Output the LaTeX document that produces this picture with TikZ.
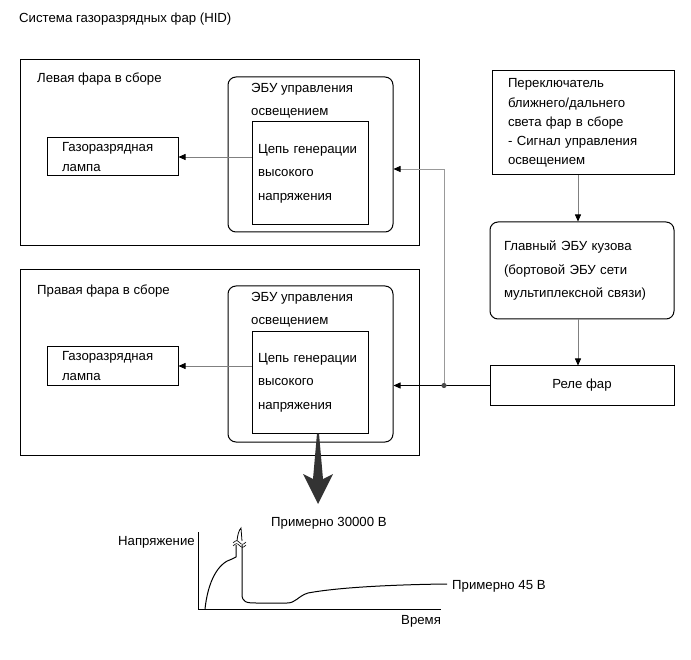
\documentclass[tikz,border=0pt]{standalone}
\usepackage{fontspec}
\setmainfont{Liberation Sans}
\usetikzlibrary{arrows.meta}
\begin{document}
\begin{tikzpicture}[x=1pt,y=-1pt,
  box/.style={draw, line width=1pt, inner sep=0pt},
  rbox/.style={box, rounded corners=8pt},
  txt/.style={font=\fontsize{13.2}{23.5}\selectfont, inner sep=0pt, align=left},
  btxt/.style={font=\fontsize{13.2}{23.5}\selectfont, align=left, inner ysep=0pt},
  arr/.style={-{Triangle[length=7pt,width=6pt,black]}, line width=0.7pt},
  garr/.style={arr, draw=black!50},
  curve/.style={line width=1pt, line join=round}]
\useasboundingbox (0,0) rectangle (691,660);

% title
\node[txt, anchor=base west] (title) at (19,23) {Система газоразрядных фар (HID)};

% left headlamp assembly
\node[box, minimum width=399pt, minimum height=186pt] (outL) at (219.5,153) {};
\node[txt, anchor=base west] (outLt) at (37,83) {Левая фара в сборе};
\node[rbox, minimum width=165pt, minimum height=155pt] (ecuL) at (310.5,154.5) {};
\node[txt, anchor=base west] (ecuLt) at (251,116) {ЭБУ управления\\освещением};
\node[box, btxt, minimum width=116pt, minimum height=103pt, inner xsep=6pt, text width=104pt] (hvL) at (310,173.5) {Цепь генерации\\высокого\\напряжения};
\node[box, btxt, minimum width=131pt, minimum height=38pt, inner xsep=15pt, text width=101pt, font=\fontsize{13.2}{20}\selectfont] (lampL) at (112.5,157) {Газоразрядная\\лампа};

% right headlamp assembly
\node[box, minimum width=399pt, minimum height=185pt] (outR) at (219.5,362.5) {};
\node[txt, anchor=base west] (outRt) at (37,295) {Правая фара в сборе};
\node[rbox, minimum width=165pt, minimum height=156pt] (ecuR) at (310.5,364) {};
\node[txt, anchor=base west] (ecuRt) at (251,325) {ЭБУ управления\\освещением};
\node[box, btxt, minimum width=116pt, minimum height=101pt, inner xsep=6pt, text width=104pt] (hvR) at (310,382.5) {Цепь генерации\\высокого\\напряжения};
\node[box, btxt, minimum width=131pt, minimum height=38pt, inner xsep=15pt, text width=101pt, font=\fontsize{13.2}{20}\selectfont] (lampR) at (112.5,366) {Газоразрядная\\лампа};

% right column
\node[box, btxt, minimum width=182pt, minimum height=104pt, inner xsep=16pt, text width=150pt, font=\fontsize{13.2}{19.2}\selectfont] (sw) at (583,123) {Переключатель\\ближнего/дальнего\\света фар в сборе\\- Сигнал управления\\освещением};
\node[rbox, btxt, minimum width=184pt, minimum height=97pt, inner xsep=14pt, text width=156pt] (body) at (582,270.5) {Главный ЭБУ кузова\\(бортовой ЭБУ сети\\мультиплексной связи)};
\node[box, btxt, minimum width=184pt, minimum height=39pt, align=center] (relay) at (582,385.5) {Реле фар};

% connectors
\draw[garr] (hvL.west |- lampL.east) -- (lampL.east);
\draw[garr] (hvR.west |- lampR.east) -- (lampR.east);
\draw[garr] (sw.south -| 578,0) -- (body.north -| 578,0);
\draw[garr] (body.south -| 578,0) -- (relay.north -| 578,0);
\coordinate (j) at (444,385.5);
\coordinate (k) at (444,169);
\draw[arr] (relay.west) -- (relay.west -| ecuR.east);
\draw[draw=black!40, line width=0.7pt] (j) -- (k);
\draw[arr, draw=black!40] (k) -- (k -| ecuL.east);
\fill[black!70] (j) circle (2.6pt);

% big arrow
\coordinate (ba) at (318,433.5);
\fill[black!80] (ba) ++(-1,0) -- ++(2,0) -- (323,479) -- (333,474) -- (318,504) -- (303,474) -- (313,479) -- cycle;

% graph
\coordinate (o) at (198,609);
\draw[line width=0.7pt] (198,532) -- (o) -- (441,609);
\node[txt, anchor=base west] (ylab) at (118,545) {Напряжение};
\node[txt, anchor=base west] (xlab) at (401,624) {Время};
\node[txt, anchor=base west] (hi) at (271,526) {Примерно 30000 В};
\node[txt, anchor=base west] (lo) at (452,589) {Примерно 45 В};
\draw[curve] (205,609) .. controls (208,581) and (218,563) .. (232,559) -- (236,557) -- (236,545);
\draw[curve] (242,545) -- (242,594) .. controls (242,602) and (246,603) .. (256,603) -- (287,603) .. controls (296,603) and (298,596) .. (308,593) .. controls (340,587) and (400,584.5) .. (447,584);
\draw[line width=0.8pt] (237,541) .. controls (237.5,535) and (239,530) .. (241,528) -- (242,541);
\draw[line width=0.6pt] (233,543) .. controls (236,540) and (237,540) .. (239.5,542.5) .. controls (242,545) and (243,545) .. (246,542);
\draw[line width=0.6pt] (233,546) .. controls (236,543) and (237,543) .. (239.5,545.5) .. controls (242,548) and (243,548) .. (246,545);
\end{tikzpicture}
\end{document}
